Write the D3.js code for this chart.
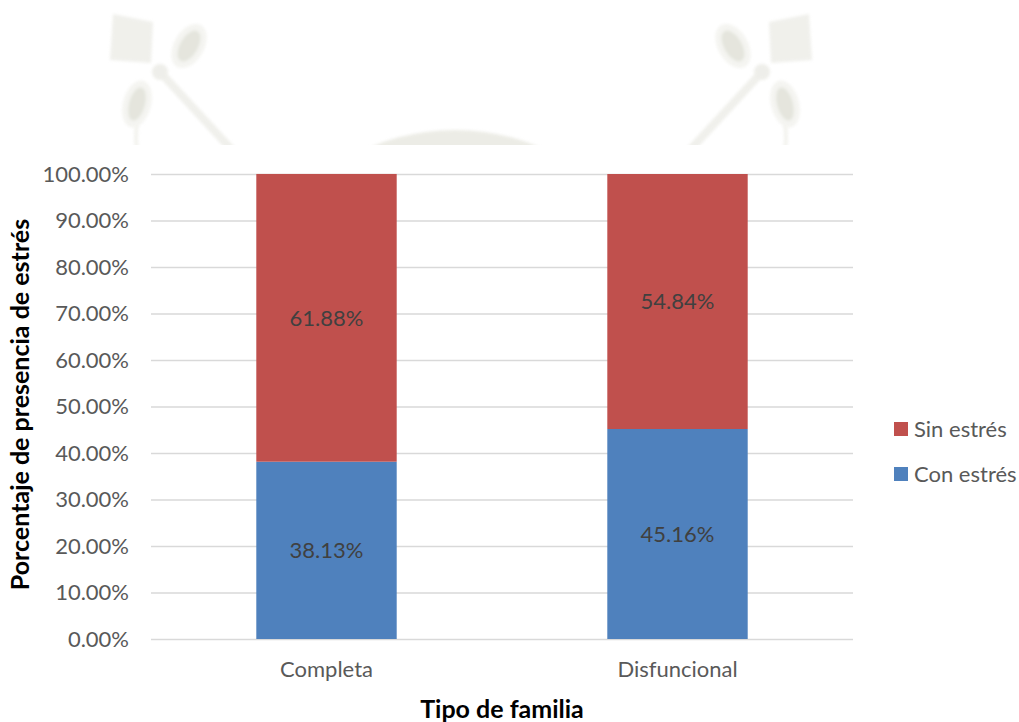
<!DOCTYPE html>
<html>
<head>
<meta charset="utf-8">
<script src="https://cdn.jsdelivr.net/npm/d3@7"></script>
<style>
  html, body { margin: 0; padding: 0; background: #fff; }
  svg { display: block; }
  text { font-family: Lato, "Open Sans", sans-serif; }
</style>
</head>
<body>
<svg id="chart" width="1019" height="722"></svg>
<script>
// Stacked percentage bars: stress presence by family type
const categories = ["Completa", "Disfuncional"];
const conEstres = [38.13, 45.16];
const sinEstres = [61.88, 54.84];
const seriesNames = ["Con estrés", "Sin estrés"];
const seriesColors = ["#4F81BD", "#C0504D"];
const yTickValues = [0, 10, 20, 30, 40, 50, 60, 70, 80, 90, 100];
const yTitle = "Porcentaje de presencia de estrés";
const xTitle = "Tipo de familia";

const svg = d3.select("#chart");
const W = 1019, H = 722;
const margin = { left: 151, right: 166, top: 174, bottom: 83 };
const plotW = W - margin.left - margin.right;
const plotH = H - margin.top - margin.bottom;

// faint decorative emblem behind the top of the page
const defs = svg.append("defs");
defs.append("filter").attr("id", "soft")
  .append("feGaussianBlur").attr("stdDeviation", 1.5);
const wm = svg.append("g").attr("filter", "url(#soft)").attr("opacity", 0.75);
function emblem(g) {
  g.append("path").attr("d", "M113,14 L153,22 L151,63 L110,60 Z").attr("fill", "#ebebe5");
  g.append("line").attr("x1", 160).attr("y1", 72).attr("x2", 232).attr("y2", 150)
    .attr("stroke", "#ebebe5").attr("stroke-width", 8);
  g.append("path").attr("d", "M140,112 Q134,130 137,150").attr("fill", "none")
    .attr("stroke", "#efefe9").attr("stroke-width", 4);
  g.append("circle").attr("cx", 160).attr("cy", 72).attr("r", 8).attr("fill", "#e9e9e3");
  g.append("ellipse").attr("cx", 189).attr("cy", 46).attr("rx", 15).attr("ry", 24)
    .attr("transform", "rotate(30,189,46)").attr("fill", "#f1f1ec");
  g.append("ellipse").attr("cx", 189).attr("cy", 46).attr("rx", 9).attr("ry", 17)
    .attr("transform", "rotate(30,189,46)").attr("fill", "#dcddd2");
  g.append("ellipse").attr("cx", 137).attr("cy", 104).attr("rx", 14).attr("ry", 24)
    .attr("transform", "rotate(15,137,104)").attr("fill", "#f1f1ec");
  g.append("ellipse").attr("cx", 137).attr("cy", 104).attr("rx", 8).attr("ry", 17)
    .attr("transform", "rotate(15,137,104)").attr("fill", "#dcddd2");
}
emblem(wm.append("g"));
emblem(wm.append("g").attr("transform", "translate(922,0) scale(-1,1)"));
wm.append("ellipse").attr("cx", 455).attr("cy", 230).attr("rx", 150).attr("ry", 100)
  .attr("fill", "#e6e6de");
// white page area over the lower part of the emblem
svg.append("rect").attr("x", 0).attr("y", 145).attr("width", W).attr("height", H - 145)
  .attr("fill", "#fff");

const x = d3.scaleBand().domain(categories)
  .range([margin.left, margin.left + plotW])
  .paddingInner(0.6).paddingOuter(0.3);
const y = d3.scaleLinear().domain([0, 100]).range([margin.top + plotH, margin.top]);

// gridlines and y tick labels
const yAxis = d3.axisLeft(y).tickValues(yTickValues)
  .tickSize(-plotW).tickPadding(22)
  .tickFormat(d => d.toFixed(2) + "%");
const gy = svg.append("g").attr("transform", `translate(${margin.left},0)`).call(yAxis);
gy.select(".domain").remove();
gy.selectAll(".tick line").attr("stroke", "#d9d9d9").attr("stroke-width", 1.5);
gy.selectAll(".tick text").attr("fill", "#595959").style("font-size", "22px")
  .style("font-family", "Lato, sans-serif");

// stacked bars
const rows = categories.map((c, i) => ({ cat: c, "Con estrés": conEstres[i], "Sin estrés": sinEstres[i] }));
const stack = d3.stack().keys(seriesNames)(rows);
const color = d3.scaleOrdinal().domain(seriesNames).range(seriesColors);

const layers = svg.append("g").selectAll("g").data(stack).join("g")
  .attr("fill", d => color(d.key));
layers.selectAll("rect").data(d => d).join("rect")
  .attr("x", d => x(d.data.cat))
  .attr("width", x.bandwidth())
  .attr("y", d => y(d[1]))
  .attr("height", d => y(d[0]) - y(d[1]));

// value labels centred in each segment
layers.each(function (layer) {
  d3.select(this).selectAll("text").data(layer).join("text")
    .attr("x", d => x(d.data.cat) + x.bandwidth() / 2)
    .attr("y", d => y((d[0] + d[1]) / 2))
    .attr("dy", "0.35em")
    .attr("text-anchor", "middle")
    .attr("fill", "#404040")
    .style("font-size", "22px")
    .text(d => d.data[layer.key].toFixed(2) + "%");
});

// x axis category labels
const xAxis = d3.axisBottom(x).tickSize(0).tickPadding(22);
const gx = svg.append("g").attr("transform", `translate(0,${margin.top + plotH})`).call(xAxis);
gx.select(".domain").remove();
gx.selectAll(".tick text").attr("fill", "#595959").style("font-size", "22px")
  .style("font-family", "Lato, sans-serif");

// axis titles
svg.append("text")
  .attr("x", margin.left + plotW / 2).attr("y", 718)
  .attr("text-anchor", "middle").attr("font-weight", "bold")
  .attr("fill", "#000").style("font-size", "25px")
  .text(xTitle);
svg.append("text")
  .attr("transform", `translate(29,${margin.top + plotH / 2 - 2}) rotate(-90)`)
  .attr("text-anchor", "middle").attr("font-weight", "bold")
  .attr("fill", "#000").style("font-size", "25px")
  .text(yTitle);

// legend
const legendItems = [...seriesNames].reverse();
const lg = svg.append("g").selectAll("g").data(legendItems).join("g")
  .attr("transform", (d, i) => `translate(894,${422 + i * 45})`);
lg.append("rect").attr("width", 14).attr("height", 14).attr("fill", d => color(d));
lg.append("text").attr("x", 20).attr("y", 7).attr("dy", "0.35em")
  .attr("fill", "#595959").style("font-size", "22px").text(d => d);
</script>
</body>
</html>
